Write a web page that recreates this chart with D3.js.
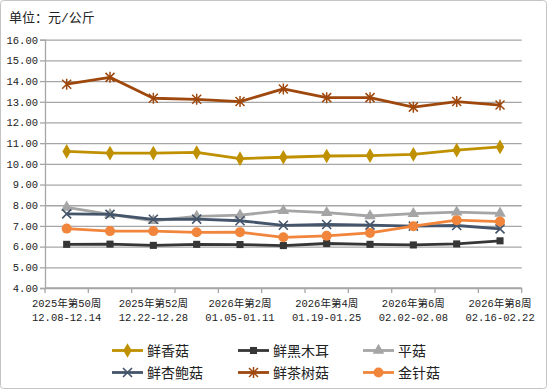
<!DOCTYPE html>
<html><head><meta charset="utf-8">
<script src="https://cdn.jsdelivr.net/npm/d3@7"></script>
<style>
html,body{margin:0;padding:0;background:#fff;}
svg{display:block;}
text{font-family:"Liberation Mono","Noto Sans CJK SC",monospace;fill:#222;}
</style></head>
<body>
<svg id="chart" width="548" height="390"></svg>
<script>
const weeks = ["2025年第50周","2025年第51周","2025年第52周","2026年第1周","2026年第2周","2026年第3周","2026年第4周","2026年第5周","2026年第6周","2026年第7周","2026年第8周"];
const dates = ["12.08-12.14","12.15-12.21","12.22-12.28","12.29-01.04","01.05-01.11","01.12-01.18","01.19-01.25","01.26-02.01","02.02-02.08","02.09-02.15","02.16-02.22"];
const seriesNames = ["鲜香菇","鲜黑木耳","平菇","鲜杏鲍菇","鲜茶树菇","金针菇"];
const xianxianggu = [10.60,10.52,10.52,10.55,10.25,10.32,10.38,10.40,10.46,10.66,10.82];
const xianheimuer = [6.11,6.12,6.06,6.11,6.10,6.05,6.15,6.11,6.08,6.13,6.28];
const pinggu = [7.90,7.56,7.25,7.46,7.52,7.74,7.64,7.48,7.59,7.67,7.61];
const xingbaogu = [7.58,7.56,7.32,7.33,7.25,7.03,7.07,7.04,6.99,7.02,6.86];
const chashugu = [13.85,14.18,13.17,13.12,13.01,13.62,13.20,13.20,12.74,13.01,12.84];
const jinzhengu = [6.87,6.75,6.75,6.69,6.70,6.45,6.52,6.66,6.99,7.28,7.21];
const yTicks = [4,5,6,7,8,9,10,11,12,13,14,15,16];
const unitLabel = "单位：元/公斤";

const colors = ["#BF9000","#363636","#A5A5A5","#44546A","#9E480E","#F0853B"];
const markers = ["diamond","square","triangle","x","star","circle"];
const seriesValues = [xianxianggu,xianheimuer,pinggu,xingbaogu,chashugu,jinzhengu];

const svg = d3.select("#chart");
const L = 45, R = 521.7, T = 39.7, B = 288;

svg.append("rect").attr("x",0.5).attr("y",0.5).attr("width",546).attr("height",388)
  .attr("rx",3).attr("fill","#fff").attr("stroke","#c4c4c4").attr("stroke-width",1);

svg.append("text").attr("x",9).attr("y",22).style("font-size","13px").text(unitLabel);

const x = d3.scaleBand().domain(weeks).range([L,R]).paddingInner(0).paddingOuter(0);
const y = d3.scaleLinear().domain([4,16]).range([B,T]);

// grid
const grid = svg.append("g").attr("transform",`translate(${L},0)`)
  .call(d3.axisLeft(y).tickValues(yTicks).tickSize(-(R-L)).tickFormat(""));
grid.select(".domain").remove();
grid.selectAll("line").attr("stroke","#a6a6a6").attr("stroke-width",1.3);

// y axis
const ya = svg.append("g").attr("transform",`translate(${L},0)`)
  .call(d3.axisLeft(y).tickValues(yTicks).tickSize(5).tickPadding(2).tickFormat(d3.format(".2f")));
ya.select(".domain").attr("stroke","#a6a6a6").attr("stroke-width",1.3);
ya.selectAll("line").attr("stroke","#a6a6a6").attr("stroke-width",1.3);
ya.selectAll("text").style("font-size","10.5px").attr("fill","#222");

// x axis line
svg.append("line").attr("x1",L).attr("x2",R).attr("y1",y(4)).attr("y2",y(4))
  .attr("stroke","#a6a6a6").attr("stroke-width",1.3);
// x boundary ticks
const bounds = weeks.map(w=>x(w)).concat([x(weeks[weeks.length-1])+x.bandwidth()]);
svg.append("g").selectAll("line").data(bounds).join("line")
  .attr("x1",d=>d).attr("x2",d=>d).attr("y1",B).attr("y2",B+5)
  .attr("stroke","#a6a6a6").attr("stroke-width",1.3);

// x labels
const xl = svg.append("g").selectAll("text").data(weeks.map((w,i)=>({w,d:dates[i],i})).filter(o=>o.i%2===0))
  .join("text").attr("text-anchor","middle").style("font-size","10.5px")
  .attr("transform",o=>`translate(${x(o.w)+x.bandwidth()/2},0)`);
xl.append("tspan").attr("x",0).attr("y",307).text(o=>o.w);
xl.append("tspan").attr("x",0).attr("y",321).text(o=>o.d);

function drawMarker(g, type, color){
  if(type==="diamond") g.append("path").attr("d",d3.symbol(d3.symbolDiamond,62)()).attr("fill",color);
  else if(type==="square") g.append("path").attr("d",d3.symbol(d3.symbolSquare,50)()).attr("fill",color);
  else if(type==="triangle") g.append("path").attr("d",d3.symbol(d3.symbolTriangle,58)()).attr("fill",color);
  else if(type==="circle") g.append("circle").attr("r",5).attr("fill",color);
  else if(type==="x"){
    g.append("path").attr("d","M-4.5,-4.5L4.5,4.5M-4.5,4.5L4.5,-4.5").attr("stroke",color).attr("stroke-width",1.6).attr("fill","none");
  } else if(type==="star"){
    g.append("path").attr("d","M-4.5,-4.5L4.5,4.5M-4.5,4.5L4.5,-4.5M0,-5.5L0,5.5").attr("stroke",color).attr("stroke-width",1.5).attr("fill","none");
  }
}

const line = d3.line().x((d,i)=>x(weeks[i])+x.bandwidth()/2).y(d=>y(d));
seriesValues.forEach((vals,si)=>{
  const g = svg.append("g");
  g.append("path").attr("d",line(vals)).attr("fill","none").attr("stroke",colors[si])
    .attr("stroke-width",2.8).attr("stroke-linejoin","round");
  vals.forEach((v,i)=>{
    const m = g.append("g").attr("transform",`translate(${x(weeks[i])+x.bandwidth()/2},${y(v)})`);
    drawMarker(m, markers[si], colors[si]);
  });
});

// legend
const legX = [112,238,363], legY = [350.5,372.5];
seriesNames.forEach((n,i)=>{
  const cx = legX[i%3], cy = legY[Math.floor(i/3)];
  const g = svg.append("g").attr("transform",`translate(${cx},${cy})`);
  g.append("line").attr("x1",0).attr("x2",31).attr("y1",0).attr("y2",0).attr("stroke",colors[i]).attr("stroke-width",2.8);
  const m = g.append("g").attr("transform","translate(15.5,0)");
  drawMarker(m, markers[i], colors[i]);
  g.append("text").attr("x",35).attr("y",5).style("font-size","14px").text(n);
});
</script>
</body></html>
